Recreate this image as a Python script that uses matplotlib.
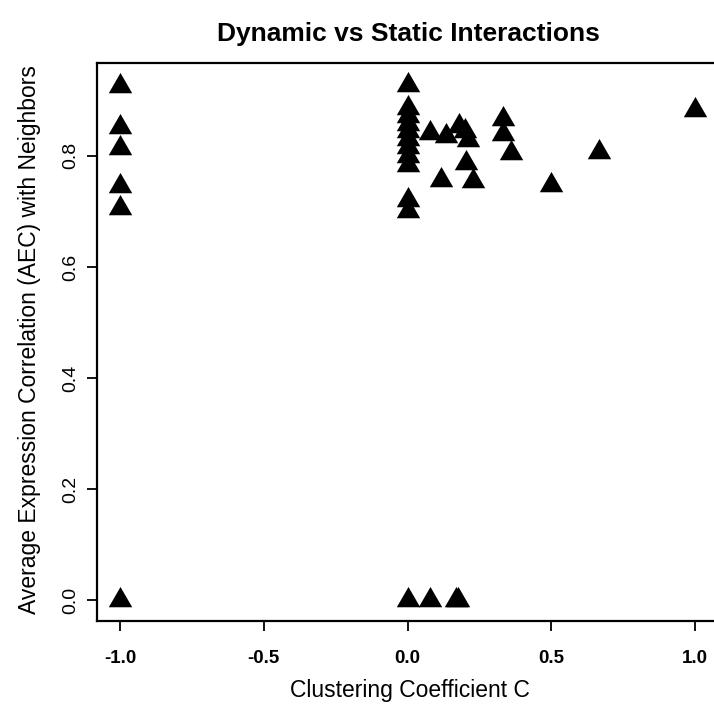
import matplotlib
matplotlib.use("Agg")
import matplotlib.pyplot as plt

plt.rcParams['font.family'] = ['Liberation Sans', 'DejaVu Sans']

# clustering coefficient C and average expression correlation (AEC)
clust_neg = [-1.0, -1.0, -1.0, -1.0, -1.0, -1.0]
aec_neg = [0.925, 0.851, 0.814, 0.746, 0.706, 0.0]

clust_zero = [0.0] * 12
aec_zero = [0.928, 0.886, 0.872, 0.858, 0.845, 0.831, 0.816, 0.80, 0.784,
            0.72, 0.70, 0.0]

clust_pos = [0.077, 0.135, 0.18, 0.20, 0.21, 0.205, 0.118, 0.226,
             0.333, 0.333, 0.36, 0.5, 0.667, 1.0, 0.077, 0.167, 0.175]
aec_pos = [0.841, 0.836, 0.854, 0.845, 0.829, 0.787, 0.756, 0.754,
           0.866, 0.84, 0.805, 0.748, 0.806, 0.883, 0.0, 0.0, 0.0]

x = clust_neg + clust_zero + clust_pos
y = aec_neg + aec_zero + aec_pos

xticks = [-1.0, -0.5, 0.0, 0.5, 1.0]
yticks = [0.0, 0.2, 0.4, 0.6, 0.8]

# filled triangle centred on its centroid (like R's pch 17)
tri = [(0, 1), (-0.866, -0.5), (0.866, -0.5)]

fig = plt.figure(figsize=(7.14, 7.08), dpi=100)
# plot box runs past the right edge of the figure
ax = fig.add_axes([97 / 714, 87 / 708, 628 / 714, 558 / 708])

ax.scatter(x, y, marker=tri, s=380, c='black', linewidths=0)

ax.set_xlim(-1.08, 1.104)
ax.set_ylim(-0.037, 0.967)
ax.set_xticks(xticks)
ax.set_xticklabels(['%.1f' % v for v in xticks], fontweight='bold')
ax.set_yticks(yticks)
ax.set_yticklabels(['%.1f' % v for v in yticks], rotation=90, va='center')

ax.tick_params(axis='x', direction='out', length=7, width=1.3, pad=14,
               labelsize=13.5)
ax.tick_params(axis='y', direction='out', length=7, width=1.3, pad=6,
               labelsize=14)
for sp in ax.spines.values():
    sp.set_linewidth(1.6)

fig.text(408 / 714, 1 - 34 / 708, 'Dynamic vs Static Interactions',
         fontsize=19, fontweight='bold', ha='center', va='center')
fig.text(410 / 714, 1 - 690 / 708, 'Clustering Coefficient C',
         fontsize=16.5, ha='center', va='center')
fig.text(30 / 714, 1 - 340 / 708,
         'Average Expression Correlation (AEC) with Neighbors',
         fontsize=16.5, rotation=90, ha='center', va='center')

fig.savefig('out.png', dpi=100)
